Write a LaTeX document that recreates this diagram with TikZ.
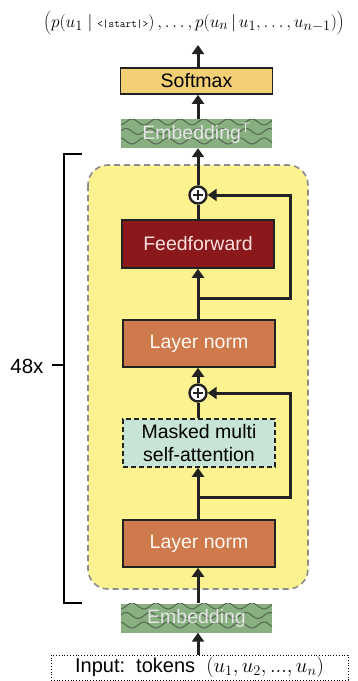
\documentclass[tikz,border=0pt]{standalone}
\usepackage{fontspec}
\setmainfont{Liberation Sans}
\usetikzlibrary{arrows.meta,calc}
\definecolor{softc}{HTML}{F2CF72}
\definecolor{embc}{HTML}{87AF80}
\definecolor{wavec}{HTML}{55654F}
\definecolor{ffc}{HTML}{8B191C}
\definecolor{lnc}{HTML}{CF7A4C}
\definecolor{attc}{HTML}{C8E4D7}
\definecolor{yelc}{HTML}{FCF28F}
\definecolor{yelb}{HTML}{8C8C8C}
\definecolor{ink}{HTML}{222222}
\tikzset{
  blk/.style={rectangle, draw=ink, line width=1.6pt, minimum width=152pt, inner sep=0pt, align=center, font=\fontsize{19.5}{23}\selectfont},
  embbox/.style={rectangle, fill=embc, minimum width=151pt, minimum height=29pt, inner sep=0pt, text=white!92!black, font=\fontsize{19.5}{23}\selectfont},
  arr/.style={draw=ink, line width=3pt, -{Triangle[width=12pt,length=9pt]}},
  ln/.style={draw=ink, line width=3pt, line join=miter},
  plusnode/.style={circle, draw=ink, fill=white, line width=2.4pt, minimum size=17pt, inner sep=0pt},
}
\newcommand{\waves}[3]{% rows, y0, y1
  \begin{scope}
  \clip (121,#2) rectangle (272,#3);
  \foreach \yy [count=\i] in {#1} {
    \draw[wavec, line width=1pt] plot[domain=115:280, samples=90, smooth] (\x,{\yy+3*sin(15*\x+90*\i)});
  }
  \end{scope}}
\begin{document}
\begin{tikzpicture}[x=1pt,y=-1pt]
\useasboundingbox (0,0) rectangle (358,681);
% yellow block
\draw[fill=yelc, draw=yelb, line width=1.6pt, dash pattern=on 6pt off 4pt, rounded corners=20pt] (88,165) rectangle (308,589);
% bracket
\draw[black, line width=1.8pt] (82,154) -- (64,154) -- (64,603) -- (82,603);
\draw[black, line width=1.8pt] (52,365) -- (64,365);
\node[font=\fontsize{20.5}{24}\selectfont, anchor=east] (rep) at (47,366) {48x};
% title
\node (title) at (194,23) {\fontsize{19}{23}\selectfont $\left(\rule[-8pt]{0pt}{24pt}p(u_1\mid \mbox{\fontsize{11}{12}\selectfont\ttfamily <|start|>})\,,\ldots,p(u_n\,|\,u_1,\ldots,u_{n-1})\right)$};
% softmax
\node[blk, fill=softc, minimum height=26pt] (soft) at (196.5,81) {Softmax};
% embedding T
\node[embbox] (embT) at (196.5,133.5) {};
\waves{122,131.5,141}{119}{148}
\node[text=white!90!black, font=\fontsize{19.5}{23}\selectfont] (embTt) at (196.5,133.5) {Embedding$^{\mathsf{T}}$};
% blocks
\node[blk, fill=ffc, text=white!88!red, minimum height=48pt] (ff) at (198,244) {Feedforward};
\node[blk, fill=lnc, text=white!95!orange, minimum height=47pt] (ln1) at (199,343.5) {Layer norm};
\node[blk, fill=attc, dash pattern=on 5pt off 3pt, minimum height=48pt, text=black] (att) at (199,443) {Masked multi\\self-attention};
\node[blk, fill=lnc, text=white!95!orange, minimum height=47pt] (ln2) at (199,543.5) {Layer norm};
% embedding
\node[embbox] (emb) at (196.5,618) {};
\waves{606,615.5,625}{603}{633}
\node[text=white!90!black, font=\fontsize{19.5}{23}\selectfont] (embt) at (196.5,618) {Embedding};
% input
\node[draw=black, dotted, line width=0.8pt, minimum width=297pt, minimum height=25pt, inner sep=0pt, font=\fontsize{20}{24}\selectfont] (inp) at (199.5,667.5) {Input:\ \ tokens\ \ $(u_1,u_2,...,u_n)$};
% plus nodes
\node[plusnode] (p1) at (198,195) {};
\node[plusnode] (p2) at (198,393) {};
\foreach \p in {p1,p2} {
  \draw[ink, line width=1.8pt] ($(\p)+(-5,0)$) -- ($(\p)+(5,0)$);
  \draw[ink, line width=1.8pt] ($(\p)+(0,-5)$) -- ($(\p)+(0,5)$);
}
% coordinates
\coordinate (top) at (198,45);
\coordinate (b1) at (198,298);
\coordinate (b2) at (198,497);
\coordinate (r1) at (290,195);
\coordinate (r2) at (290,393);
% connectors
\draw[arr] (inp.north -| p1) -- (emb.south -| p1);
\draw[arr] (emb.north -| p1) -- (ln2.south -| p1);
\draw[arr] (ln2.north -| p1) -- (att.south -| p1);
\draw[ln] (att.north -| p1) -- (p2.south);
\draw[arr] (p2.north) -- (ln1.south -| p1);
\draw[arr] (ln1.north -| p1) -- (ff.south -| p1);
\draw[ln] (ff.north -| p1) -- (p1.south);
\draw[arr] (p1.north) -- (embT.south -| p1);
\draw[arr] (embT.north -| p1) -- (soft.south -| p1);
\draw[arr] (soft.north -| p1) -- (top);
\draw[ln, -{Triangle[width=12pt,length=9pt]}] (b2) -| (r2) -- (p2.east);
\draw[ln, -{Triangle[width=12pt,length=9pt]}] (b1) -| (r1) -- (p1.east);
\end{tikzpicture}
\end{document}
